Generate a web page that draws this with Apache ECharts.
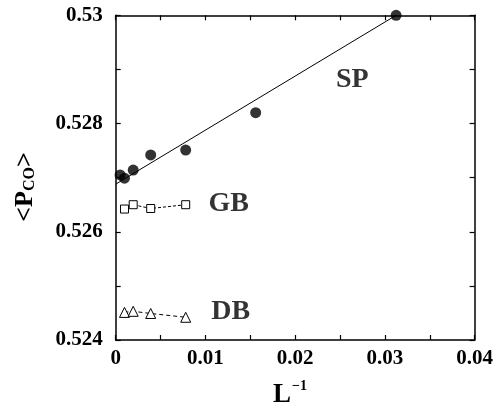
<!DOCTYPE html>
<html>
<head>
<meta charset="utf-8">
<script src="https://cdn.jsdelivr.net/npm/echarts@6/dist/echarts.min.js"></script>
<style>html,body{margin:0;padding:0;background:#fff}#c{width:496px;height:409px}</style>
</head>
<body>
<div id="c"></div>
<script>
// ---- data ----
const xSP = [0.00049, 0.00098, 0.00195, 0.0039, 0.0078, 0.0156, 0.03125];
const ySP = [0.52705, 0.52699, 0.52714, 0.52742, 0.52751, 0.52820, 0.53000];
const xFit = [0, 0.03125];
const yFit = [0.52688, 0.53000];
const xGB = [0.00098, 0.00195, 0.0039, 0.0078];
const yGB = [0.52642, 0.52650, 0.52643, 0.52650];
const xDB = [0.00098, 0.00195, 0.0039, 0.0078];
const yDB = [0.52451, 0.52453, 0.52449, 0.52442];
const labelNames = ['SP', 'GB', 'DB'];
const labelX = [0.02637, 0.01259, 0.01281];
const labelY = [0.52880, 0.52651, 0.52452];
const xTickLabels = ['0', '0.01', '0.02', '0.03', '0.04'];
const yTickLabels = ['0.524', '0.526', '0.528', '0.53'];

const zip = (a, b) => a.map((v, i) => [v, b[i]]);
const FONT = 'Liberation Serif';

const xLabelFmt = v => {
  const k = Math.round(v / 0.005);
  return k % 2 === 0 ? xTickLabels[k / 2] : '';
};
const yLabelFmt = v => {
  const k = Math.round((v - 0.524) / 0.001);
  return k % 2 === 0 ? yTickLabels[k / 2] : '';
};

const axisCommon = {
  axisLine: { show: true, onZero: false, lineStyle: { color: '#000', width: 1.5 } },
  axisTick: { show: true, inside: true, length: 5, lineStyle: { color: '#000', width: 1.2 } },
  splitLine: { show: false }
};

const chart = echarts.init(document.getElementById('c'), null, { renderer: 'canvas' });
chart.setOption({
  animation: false,
  backgroundColor: '#fff',
  grid: { left: 115.7, right: 18, top: 15.3, bottom: 69, containLabel: false },
  xAxis: [
    Object.assign({ type: 'value', min: 0, max: 0.04, interval: 0.005, position: 'bottom',
      axisLabel: { show: true, formatter: xLabelFmt, margin: 8, color: '#000',
        fontFamily: FONT, fontWeight: 'bold', fontSize: 21 } }, axisCommon),
    Object.assign({ type: 'value', min: 0, max: 0.04, interval: 0.005, position: 'top',
      axisLabel: { show: false } }, axisCommon)
  ],
  yAxis: [
    Object.assign({ type: 'value', min: 0.524, max: 0.53, interval: 0.001, position: 'left',
      axisLabel: { show: true, formatter: yLabelFmt, margin: 13, color: '#000',
        fontFamily: FONT, fontWeight: 'bold', fontSize: 21 } }, axisCommon),
    Object.assign({ type: 'value', min: 0.524, max: 0.53, interval: 0.001, position: 'right',
      axisLabel: { show: false } }, axisCommon)
  ],
  graphic: [
    {
      type: 'text', x: 25, y: 187, rotation: Math.PI / 2,
      style: {
        text: '<P{s|CO}>', x: 0, y: 0, align: 'center', verticalAlign: 'middle',
        fill: '#000', font: 'bold 26px "Liberation Serif"',
        rich: { s: { fontSize: 16, fontWeight: 'bold', fontFamily: FONT, fill: '#000', verticalAlign: 'bottom', padding: [10, 0, 0, 0] } }
      }
    },
    {
      type: 'text', x: 290, y: 395,
      style: {
        text: 'L{s|−1}', x: 0, y: 0, align: 'center', verticalAlign: 'middle',
        fill: '#000', font: 'bold 27px "Liberation Serif"',
        rich: { s: { fontSize: 14, fontWeight: 'bold', fontFamily: FONT, fill: '#000', verticalAlign: 'top', padding: [0, 0, 18, 1] } }
      }
    }
  ],
  series: [
    { type: 'line', data: zip(xFit, yFit), symbol: 'none', lineStyle: { color: '#000', width: 1 }, z: 2 },
    { type: 'scatter', data: zip(xSP, ySP), symbol: 'circle', symbolSize: 11,
      itemStyle: { color: '#000' }, z: 3 },
    { type: 'line', data: zip(xGB, yGB), symbol: 'rect', symbolSize: 8, showAllSymbol: true,
      lineStyle: { color: '#000', width: 1, type: [3, 2] },
      itemStyle: { color: '#fff', borderColor: '#000', borderWidth: 1 }, z: 3 },
    { type: 'line', data: zip(xDB, yDB), symbol: 'triangle', symbolSize: 10, showAllSymbol: true,
      lineStyle: { color: '#000', width: 1, type: [4, 3] },
      itemStyle: { color: '#fff', borderColor: '#000', borderWidth: 1 }, z: 3 },
    { type: 'scatter', symbolSize: 0, silent: true,
      data: labelNames.map((n, i) => ({ value: [labelX[i], labelY[i]], name: n })),
      label: { show: true, position: 'inside', formatter: p => p.name, color: '#000',
        fontFamily: FONT, fontWeight: 'bold', fontSize: 28 }, z: 4 }
  ]
});
</script>
</body>
</html>
